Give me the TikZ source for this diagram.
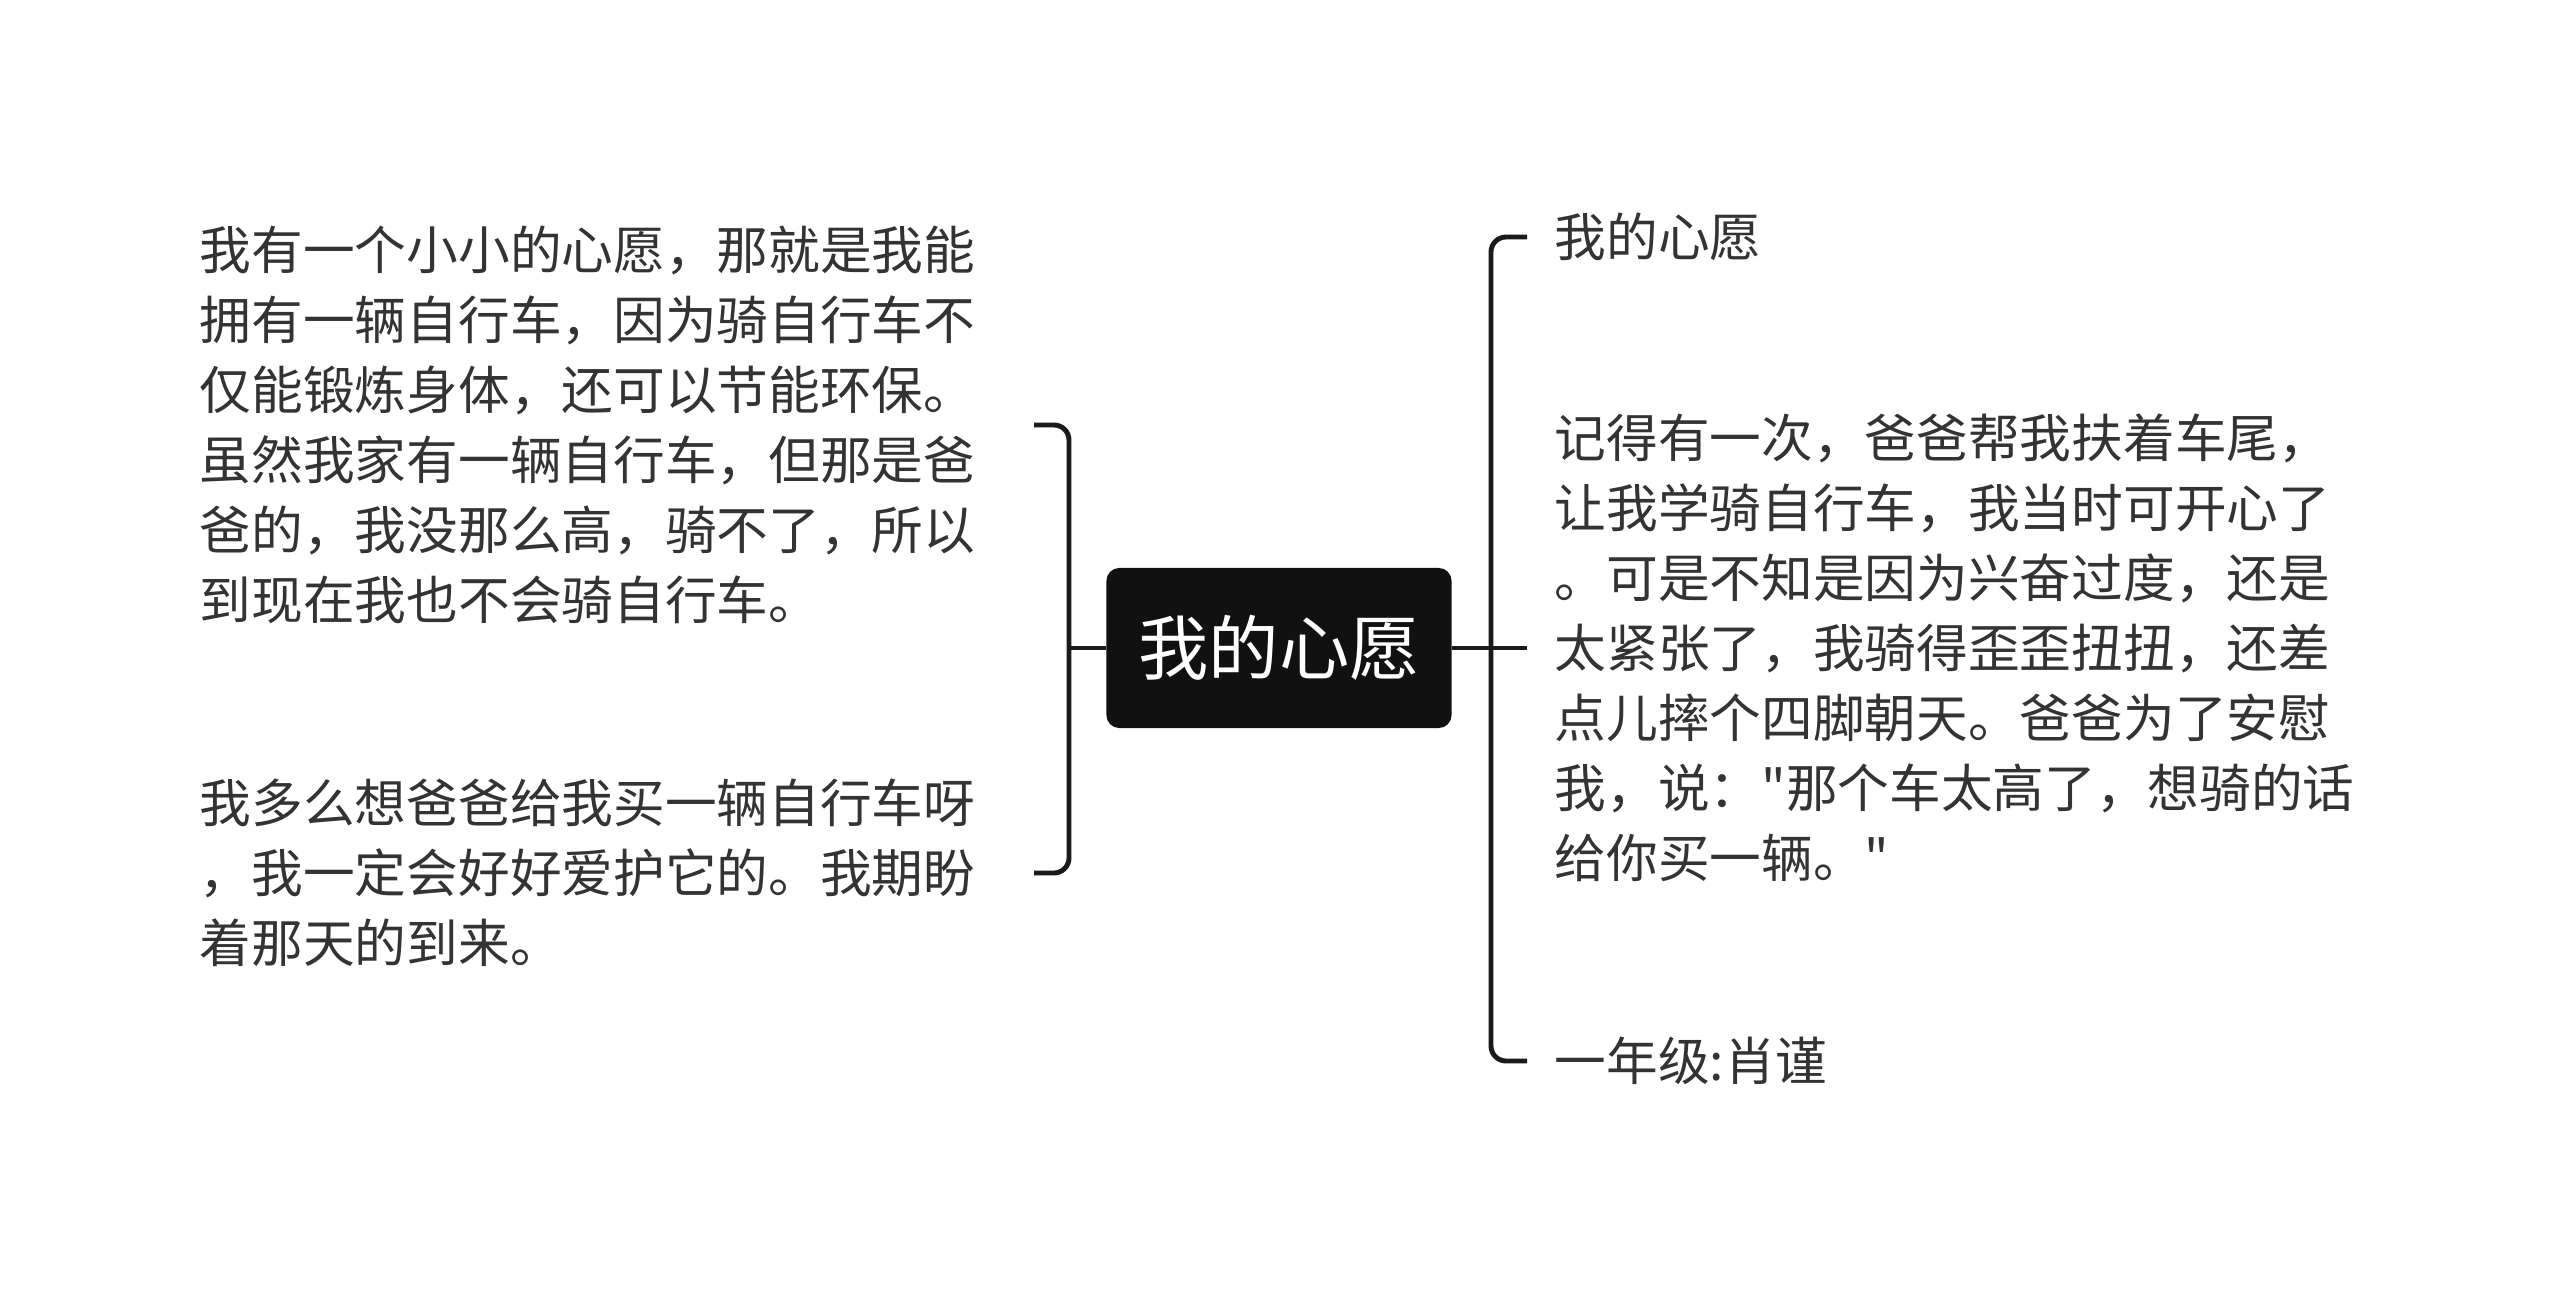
\documentclass[tikz,border=0pt]{standalone}
\usepackage{fontspec}
\newfontfamily\cjk{Noto Sans CJK SC}
\definecolor{linkgray}{HTML}{1A1A1A}
\definecolor{textgray}{HTML}{333333}
\definecolor{rootfill}{HTML}{111111}
\tikzset{
  link/.style={linkgray,line width=1.4pt,rounded corners=0.15cm},
  root/.style={fill=rootfill,text=white,rounded corners=0.13cm,minimum width=3.45cm,minimum height=1.6cm,font=\cjk\fontsize{20}{24}\selectfont},
  leaf/.style={text=textgray,align=left,inner ysep=0pt,font=\cjk\fontsize{14.7}{19.9}\selectfont},
}
\begin{document}
\begin{tikzpicture}[x=0.01cm,y=-0.01cm]
  \useasboundingbox (0,0) rectangle (2560,1297);
  \node[root] (root) at (1279,648) {我的心愿};

  % left side
  \node[leaf,anchor=east,inner xsep=0.58cm] (l1) at (1034,425) {我有一个小小的心愿，那就是我能\\
拥有一辆自行车，因为骑自行车不\\
仅能锻炼身体，还可以节能环保。\\
虽然我家有一辆自行车，但那是爸\\
爸的，我没那么高，骑不了，所以\\
到现在我也不会骑自行车。};
  \node[leaf,anchor=east,inner xsep=0.58cm] (l2) at (1034,873) {我多么想爸爸给我买一辆自行车呀\\
，我一定会好好爱护它的。我期盼\\
着那天的到来。};
  \coordinate (lj) at (1069,648);
  \draw[link] (root.west) -- (lj);
  \draw[link] (l1.east) -| (lj) |- (l2.east);

  % right side
  \node[leaf,anchor=west,inner xsep=0.27cm] (r1) at (1527,237) {我的心愿};
  \node[leaf,anchor=west,inner xsep=0.27cm] (r2) at (1527,648) {记得有一次，爸爸帮我扶着车尾，\\
让我学骑自行车，我当时可开心了\\
。可是不知是因为兴奋过度，还是\\
太紧张了，我骑得歪歪扭扭，还差\\
点儿摔个四脚朝天。爸爸为了安慰\\
我，说："那个车太高了，想骑的话\\
给你买一辆。"};
  \node[leaf,anchor=west,inner xsep=0.27cm] (r3) at (1527,1061) {一年级:肖谨};
  \coordinate (rj) at (1491,648);
  \draw[link] (root.east) -- (r2.west);
  \draw[link] (r1.west) -| (rj) |- (r3.west);
\end{tikzpicture}
\end{document}
